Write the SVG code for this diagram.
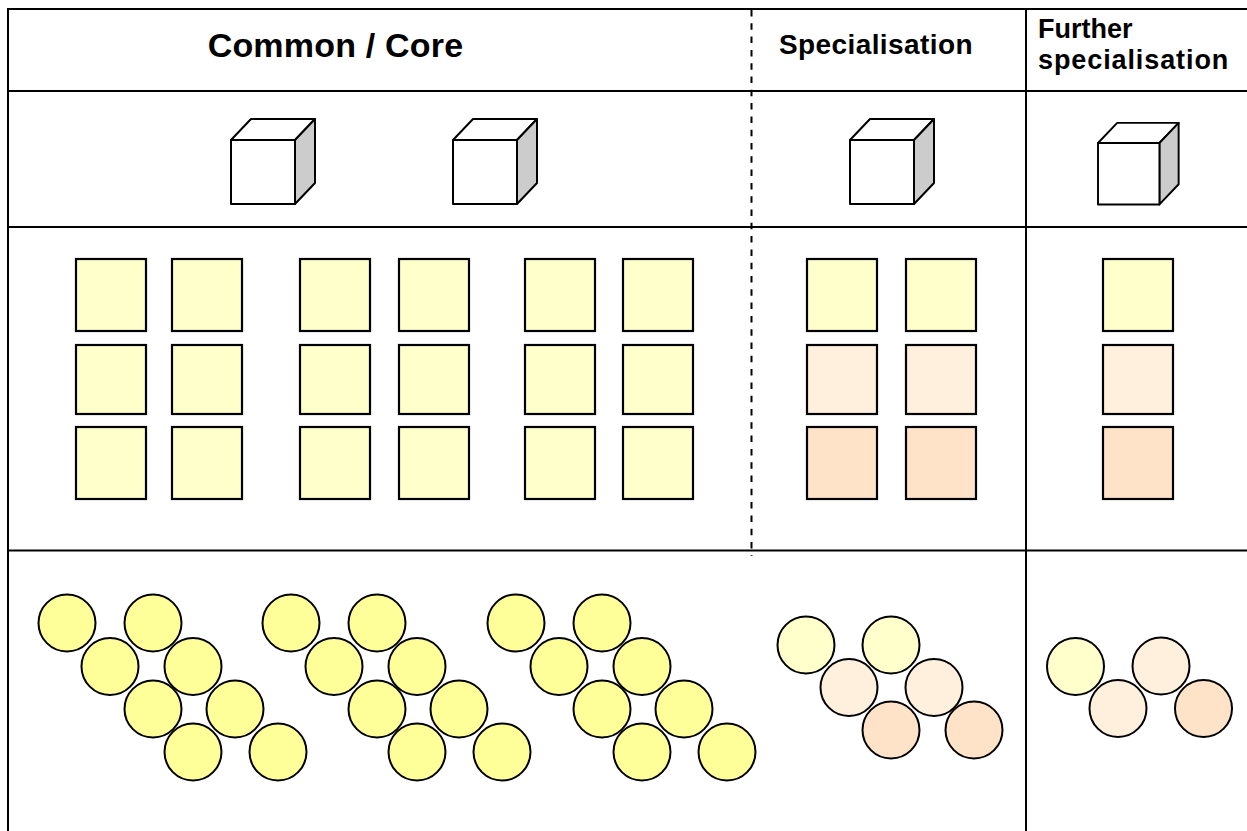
<svg xmlns="http://www.w3.org/2000/svg" width="1247" height="831" viewBox="0 0 1247 831">
  <style>
    .grid { stroke: #000; stroke-width: 2; fill: none; }
    .dash { stroke: #000; stroke-width: 2; stroke-dasharray: 6.5 6.8; fill: none; }
    .hdr { font-family: "Liberation Sans", Arial, sans-serif; font-weight: bold; fill: #000; }
    .face { fill: #fff; stroke: #000; stroke-width: 2; stroke-linejoin: round; }
    .side { fill: #ccc; stroke: #000; stroke-width: 2; stroke-linejoin: round; }
    .sq { stroke: #000; stroke-width: 2.2; }
    .ci { stroke: #000; stroke-width: 2; }
    .y1 { fill: #ffffcc; }
    .y2 { fill: #ffff99; }
    .p1 { fill: #ffefdd; }
    .p2 { fill: #ffe3c8; }
  </style>
  <defs>
    <!-- unit cube: front face 64x64 with depth offset -->
    <g id="cube">
      <polygon class="face" points="0,0 20,-21 84,-21 64,0"/>
      <polygon class="side" points="64,0 84,-21 84,43 64,64"/>
      <rect class="face" x="0" y="0" width="64" height="64"/>
    </g>
  </defs>
  <rect width="1247" height="831" fill="#fff"/>

  <!-- table frame -->
  <g id="grid">
    <line class="grid" x1="8" y1="9" x2="1247" y2="9"/>
    <line class="grid" x1="8" y1="91" x2="1247" y2="91"/>
    <line class="grid" x1="8" y1="227" x2="1247" y2="227"/>
    <line class="grid" x1="8" y1="550.5" x2="1247" y2="550.5"/>
    <line class="grid" x1="8" y1="8" x2="8" y2="831"/>
    <line class="grid" x1="1026" y1="8" x2="1026" y2="831"/>
    <line class="dash" x1="751.5" y1="10" x2="751.5" y2="556"/>
  </g>

  <!-- column headings -->
  <g id="heading-core">
    <text class="hdr" x="335.5" y="56.5" font-size="34" letter-spacing="0.2" text-anchor="middle">Common / Core</text>
  </g>
  <g id="heading-spec">
    <text class="hdr" x="779" y="54" font-size="28" letter-spacing="0.4">Specialisation</text>
  </g>
  <g id="heading-further">
    <text class="hdr" x="1038" y="37.5" font-size="27">Further</text>
    <text class="hdr" x="1038" y="68.5" font-size="27" letter-spacing="0.9">specialisation</text>
  </g>

  <!-- cubes -->
  <g id="cube-core-1"><use href="#cube" x="231" y="140"/></g>
  <g id="cube-core-2"><use href="#cube" x="453" y="140"/></g>
  <g id="cube-spec"><use href="#cube" x="850" y="140"/></g>
  <g id="cube-further"><use href="#cube" transform="translate(1098,143) scale(0.96)"/></g>

  <!-- square tiles -->
  <g id="tiles-core">
    <g class="y1 sq">
      <rect x="76" y="259" width="70" height="72"/><rect x="172" y="259" width="70" height="72"/>
      <rect x="76" y="345" width="70" height="69"/><rect x="172" y="345" width="70" height="69"/>
      <rect x="76" y="427" width="70" height="72"/><rect x="172" y="427" width="70" height="72"/>
      <rect x="300" y="259" width="70" height="72"/><rect x="399" y="259" width="70" height="72"/>
      <rect x="300" y="345" width="70" height="69"/><rect x="399" y="345" width="70" height="69"/>
      <rect x="300" y="427" width="70" height="72"/><rect x="399" y="427" width="70" height="72"/>
      <rect x="525" y="259" width="70" height="72"/><rect x="623" y="259" width="70" height="72"/>
      <rect x="525" y="345" width="70" height="69"/><rect x="623" y="345" width="70" height="69"/>
      <rect x="525" y="427" width="70" height="72"/><rect x="623" y="427" width="70" height="72"/>
    </g>
  </g>
  <g id="tiles-spec" class="sq">
    <rect class="y1" x="807" y="259" width="70" height="72"/><rect class="y1" x="906" y="259" width="70" height="72"/>
    <rect class="p1" x="807" y="345" width="70" height="69"/><rect class="p1" x="906" y="345" width="70" height="69"/>
    <rect class="p2" x="807" y="427" width="70" height="72"/><rect class="p2" x="906" y="427" width="70" height="72"/>
  </g>
  <g id="tiles-further" class="sq">
    <rect class="y1" x="1103" y="259" width="70" height="72"/>
    <rect class="p1" x="1103" y="345" width="70" height="69"/>
    <rect class="p2" x="1103" y="427" width="70" height="72"/>
  </g>

  <!-- round tokens -->
  <defs>
    <g id="token-group">
      <circle cx="0" cy="623" r="28.5"/><circle cx="86" cy="623" r="28.5"/>
      <circle cx="43" cy="666.5" r="28.5"/><circle cx="126" cy="666.5" r="28.5"/>
      <circle cx="86" cy="709" r="28.5"/><circle cx="168" cy="709" r="28.5"/>
      <circle cx="126" cy="752" r="28.5"/><circle cx="211" cy="752" r="28.5"/>
    </g>
  </defs>
  <g id="tokens-core" class="y2 ci">
    <use href="#token-group" x="67"/>
    <use href="#token-group" x="291"/>
    <use href="#token-group" x="516"/>
  </g>
  <g id="tokens-spec" class="ci">
    <circle class="y1" cx="806" cy="645" r="28.5"/><circle class="y1" cx="891" cy="645" r="28.5"/>
    <circle class="p1" cx="849" cy="687.5" r="28.5"/><circle class="p1" cx="934" cy="687.5" r="28.5"/>
    <circle class="p2" cx="891" cy="730" r="28.5"/><circle class="p2" cx="974" cy="730" r="28.5"/>
  </g>
  <g id="tokens-further" class="ci">
    <circle class="y1" cx="1075.5" cy="666.5" r="28.5"/><circle class="p1" cx="1161" cy="666" r="28.5"/>
    <circle class="p1" cx="1118" cy="708.5" r="28.5"/><circle class="p2" cx="1203.5" cy="708.5" r="28.5"/>
  </g>
</svg>
